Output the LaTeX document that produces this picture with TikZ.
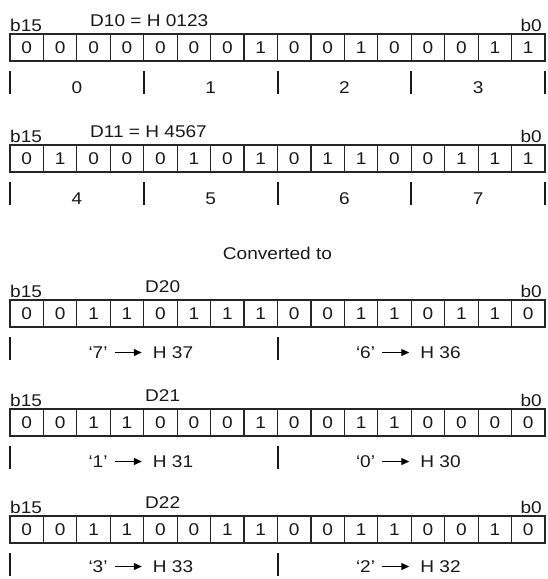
\documentclass[tikz,border=0pt]{standalone}
\usepackage{fontspec}
\setmainfont[FakeStretch=1.12]{Liberation Sans}
\usetikzlibrary{arrows.meta}
\def\cw{33.4375}
\newcommand\myreg[3]{%
  \foreach \b [count=\i from 0] in {#3} {
    \node[cell] (#1c\i) at ({10+\cw*(\i+0.5)}, {#2+13.5}) {\b};
  }
}
\newcommand\mytick[2]{\draw[tick] (#1,{#2+37}) -- (#1,{min(#2+60,578.5)});}
\newcommand\myconv[5]{% name, center x, top, digit, hex
  \node[txt, anchor=base east] (#1q) at ({#2-36},{#3+58}) {`#4'};
  \node[txt, anchor=base west] (#1h) at ({#2+9},{#3+58}) {H #5};
  \draw[conv] ([xshift=7pt,yshift=5.5pt]#1q.base east) -- ([xshift=-11pt,yshift=5.5pt]#1h.base west);
}
\begin{document}
\begin{tikzpicture}[x=1pt,y=-1pt,
  every node/.style={font=\fontsize{17}{20}\selectfont, text=black!90},
  cell/.style={draw=black!85, line width=1.2pt, minimum width=\cw pt, minimum height=27pt, inner sep=0pt, anchor=center},
  txt/.style={inner sep=0pt},
  tick/.style={line width=2pt, draw=black!90},
  conv/.style={line width=1.4pt, -{Triangle[length=8pt,width=7pt]}}]
\useasboundingbox (0,0) rectangle (547,579);
% ---- D10
\node[txt, anchor=base west] (l1) at (10,31) {b15};
\node[txt, anchor=base west] (n1) at (90,26) {D10 = H 0123};
\node[txt, anchor=base east] (r1) at (542,31) {b0};
\myreg{a}{34}{0,0,0,0,0,0,0,1,0,0,1,0,0,0,1,1}
\foreach \x in {10,143.75,277.5,411.25,545} {\mytick{\x}{34}}
\foreach \t [count=\k from 0] in {0,1,2,3} {
  \node[txt, anchor=base] (ah\k) at ({76.875+133.75*\k},93) {\t};
}
% ---- D11
\node[txt, anchor=base west] (l2) at (10,142) {b15};
\node[txt, anchor=base west] (n2) at (90,137) {D11 = H 4567};
\node[txt, anchor=base east] (r2) at (542,142) {b0};
\myreg{b}{145}{0,1,0,0,0,1,0,1,0,1,1,0,0,1,1,1}
\foreach \x in {10,143.75,277.5,411.25,545} {\mytick{\x}{145}}
\foreach \t [count=\k from 0] in {4,5,6,7} {
  \node[txt, anchor=base] (bh\k) at ({76.875+133.75*\k},204) {\t};
}
% ---- Converted to
\node[txt, anchor=base] (ct) at (277.5,259) {Converted to};
% ---- D20
\node[txt, anchor=base west] (l3) at (10,297) {b15};
\node[txt, anchor=base west] (n3) at (145,292) {D20};
\node[txt, anchor=base east] (r3) at (542,297) {b0};
\myreg{c}{300}{0,0,1,1,0,1,1,1,0,0,1,1,0,1,1,0}
\foreach \x in {10,277.5} {\mytick{\x}{300}}
\myconv{c1}{143.75}{300}{7}{37}
\myconv{c2}{411.25}{300}{6}{36}
% ---- D21
\node[txt, anchor=base west] (l4) at (10,406) {b15};
\node[txt, anchor=base west] (n4) at (145,401) {D21};
\node[txt, anchor=base east] (r4) at (542,406) {b0};
\myreg{d}{409}{0,0,1,1,0,0,0,1,0,0,1,1,0,0,0,0}
\foreach \x in {10,277.5} {\mytick{\x}{409}}
\myconv{d1}{143.75}{409}{1}{31}
\myconv{d2}{411.25}{409}{0}{30}
% ---- D22
\node[txt, anchor=base west] (l5) at (10,513) {b15};
\node[txt, anchor=base west] (n5) at (145,508) {D22};
\node[txt, anchor=base east] (r5) at (542,513) {b0};
\myreg{e}{516}{0,0,1,1,0,0,1,1,0,0,1,1,0,0,1,0}
\foreach \x in {10,277.5} {\mytick{\x}{516}}
\myconv{e1}{143.75}{514}{3}{33}
\myconv{e2}{411.25}{514}{2}{32}
\end{tikzpicture}
\end{document}
